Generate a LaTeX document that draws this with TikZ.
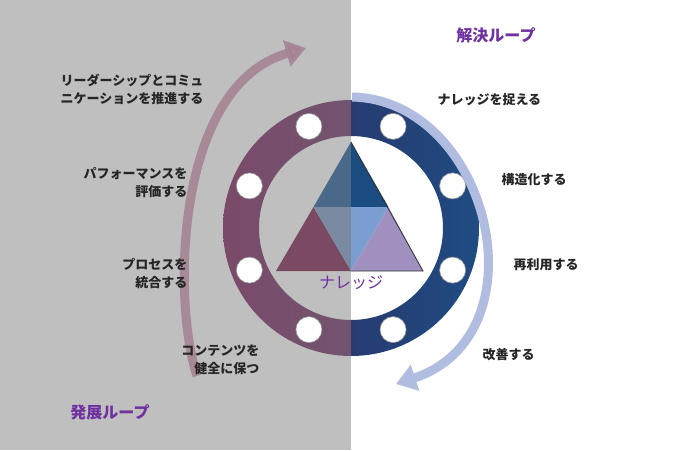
\documentclass[tikz,border=0pt]{standalone}
\usepackage{fontspec}
\setmainfont{Noto Sans CJK JP}
\usetikzlibrary{arrows.meta}
\definecolor{loopviolet}{HTML}{7030A0}
\definecolor{ringmauve}{HTML}{7A4A68}
\definecolor{ringgrey}{HTML}{6A5F78}
\definecolor{ringnavy}{HTML}{2E2A60}
\definecolor{ringblue}{HTML}{1F4C82}
\definecolor{devarrow}{RGB}{165,128,146}
\definecolor{solarrow}{RGB}{176,188,224}
\tikzset{
  steplabel/.style={font=\bfseries\fontsize{13}{18}\selectfont, text=black!85},
  looptitle/.style={font=\bfseries\fontsize{16}{18}\selectfont, text=loopviolet},
  hole/.style={fill=white, draw=black!40, line width=0.6pt},
  looparrow/.style={line width=9pt, -{Triangle[length=20pt,width=26pt]}}
}
\begin{document}
\begin{tikzpicture}[x=1pt,y=-1pt]
  \useasboundingbox (0,0) rectangle (699,450);
  \fill[black!25] (0,0) rectangle (351,450);
  \coordinate (centre) at (351,228);
  % ring, two halves
  \begin{scope}
    \clip (0,0) rectangle (351,450);
    \shade[even odd rule, left color=ringmauve, right color=ringgrey]
      (centre) circle[radius=128] (centre) circle[radius=92];
  \end{scope}
  \begin{scope}
    \clip (351,0) rectangle (699,450);
    \shade[even odd rule, left color=ringnavy, right color=ringblue]
      (centre) circle[radius=128] (centre) circle[radius=92];
  \end{scope}
  \foreach \a in {22.5,67.5,...,337.5}
    \fill[hole] (centre) ++(\a:110) circle[radius=13];
  % triangle
  \coordinate (apex) at (351,142);
  \coordinate (bl) at (276,271);
  \coordinate (br) at (423,271);
  \coordinate (ml) at (313.5,207);
  \coordinate (mr) at (388.5,207);
  \coordinate (mb) at (351,271);
  \coordinate (mm) at (351,207);
  \fill[fill={rgb,255:red,74;green,104;blue,136}] (apex) -- (ml) -- (mm) -- cycle;
  \fill[fill={rgb,255:red,26;green,76;blue,128}] (apex) -- (mm) -- (mr) -- cycle;
  \fill[fill={rgb,255:red,122;green,74;blue,98}] (ml) -- (bl) -- (mb) -- cycle;
  \fill[fill={rgb,255:red,122;green,138;blue,160}] (ml) -- (mm) -- (mb) -- cycle;
  \fill[fill={rgb,255:red,122;green,158;blue,208}] (mm) -- (mr) -- (mb) -- cycle;
  \fill[fill={rgb,255:red,160;green,144;blue,192}] (mr) -- (br) -- (mb) -- cycle;
  \draw[black!80, line width=0.8pt] (apex) -- (br) -- (mb);
  \node[font=\fontsize{16}{18}\selectfont, text=loopviolet] (knowledge) at (351,283) {ナレッジ};
  % loop arrows
  \coordinate (devstart) at (197,376);
  \coordinate (devend) at (306,48);
  \coordinate (solstart) at (352,97);
  \coordinate (solend) at (396,384);
  \draw[looparrow, devarrow, opacity=0.85]
    (devstart) .. controls (172,300) and (175,85) .. (devend);
  \draw[looparrow, solarrow]
    (solstart) .. controls (490,100) and (545,335) .. (solend);
  % labels
  \node[steplabel, anchor=east, align=right] (lead) at (207,89) {リーダーシップとコミュ\\ニケーションを推進する};
  \node[steplabel, anchor=east, align=right] (perf) at (191,183) {パフォーマンスを\\評価する};
  \node[steplabel, anchor=east, align=right] (proc) at (191,273) {プロセスを\\統合する};
  \node[steplabel, anchor=east, align=right] (cont) at (263,360) {コンテンツを\\健全に保つ};
  \node[steplabel, anchor=west] (capture) at (434,100) {ナレッジを捉える};
  \node[steplabel, anchor=west] (struct) at (498,180) {構造化する};
  \node[steplabel, anchor=west] (reuse) at (510,265) {再利用する};
  \node[steplabel, anchor=west] (improve) at (479,355) {改善する};
  \node[looptitle] (devloop) at (110,412) {発展ループ};
  \node[looptitle] (solloop) at (496,35) {解決ループ};
\end{tikzpicture}
\end{document}
